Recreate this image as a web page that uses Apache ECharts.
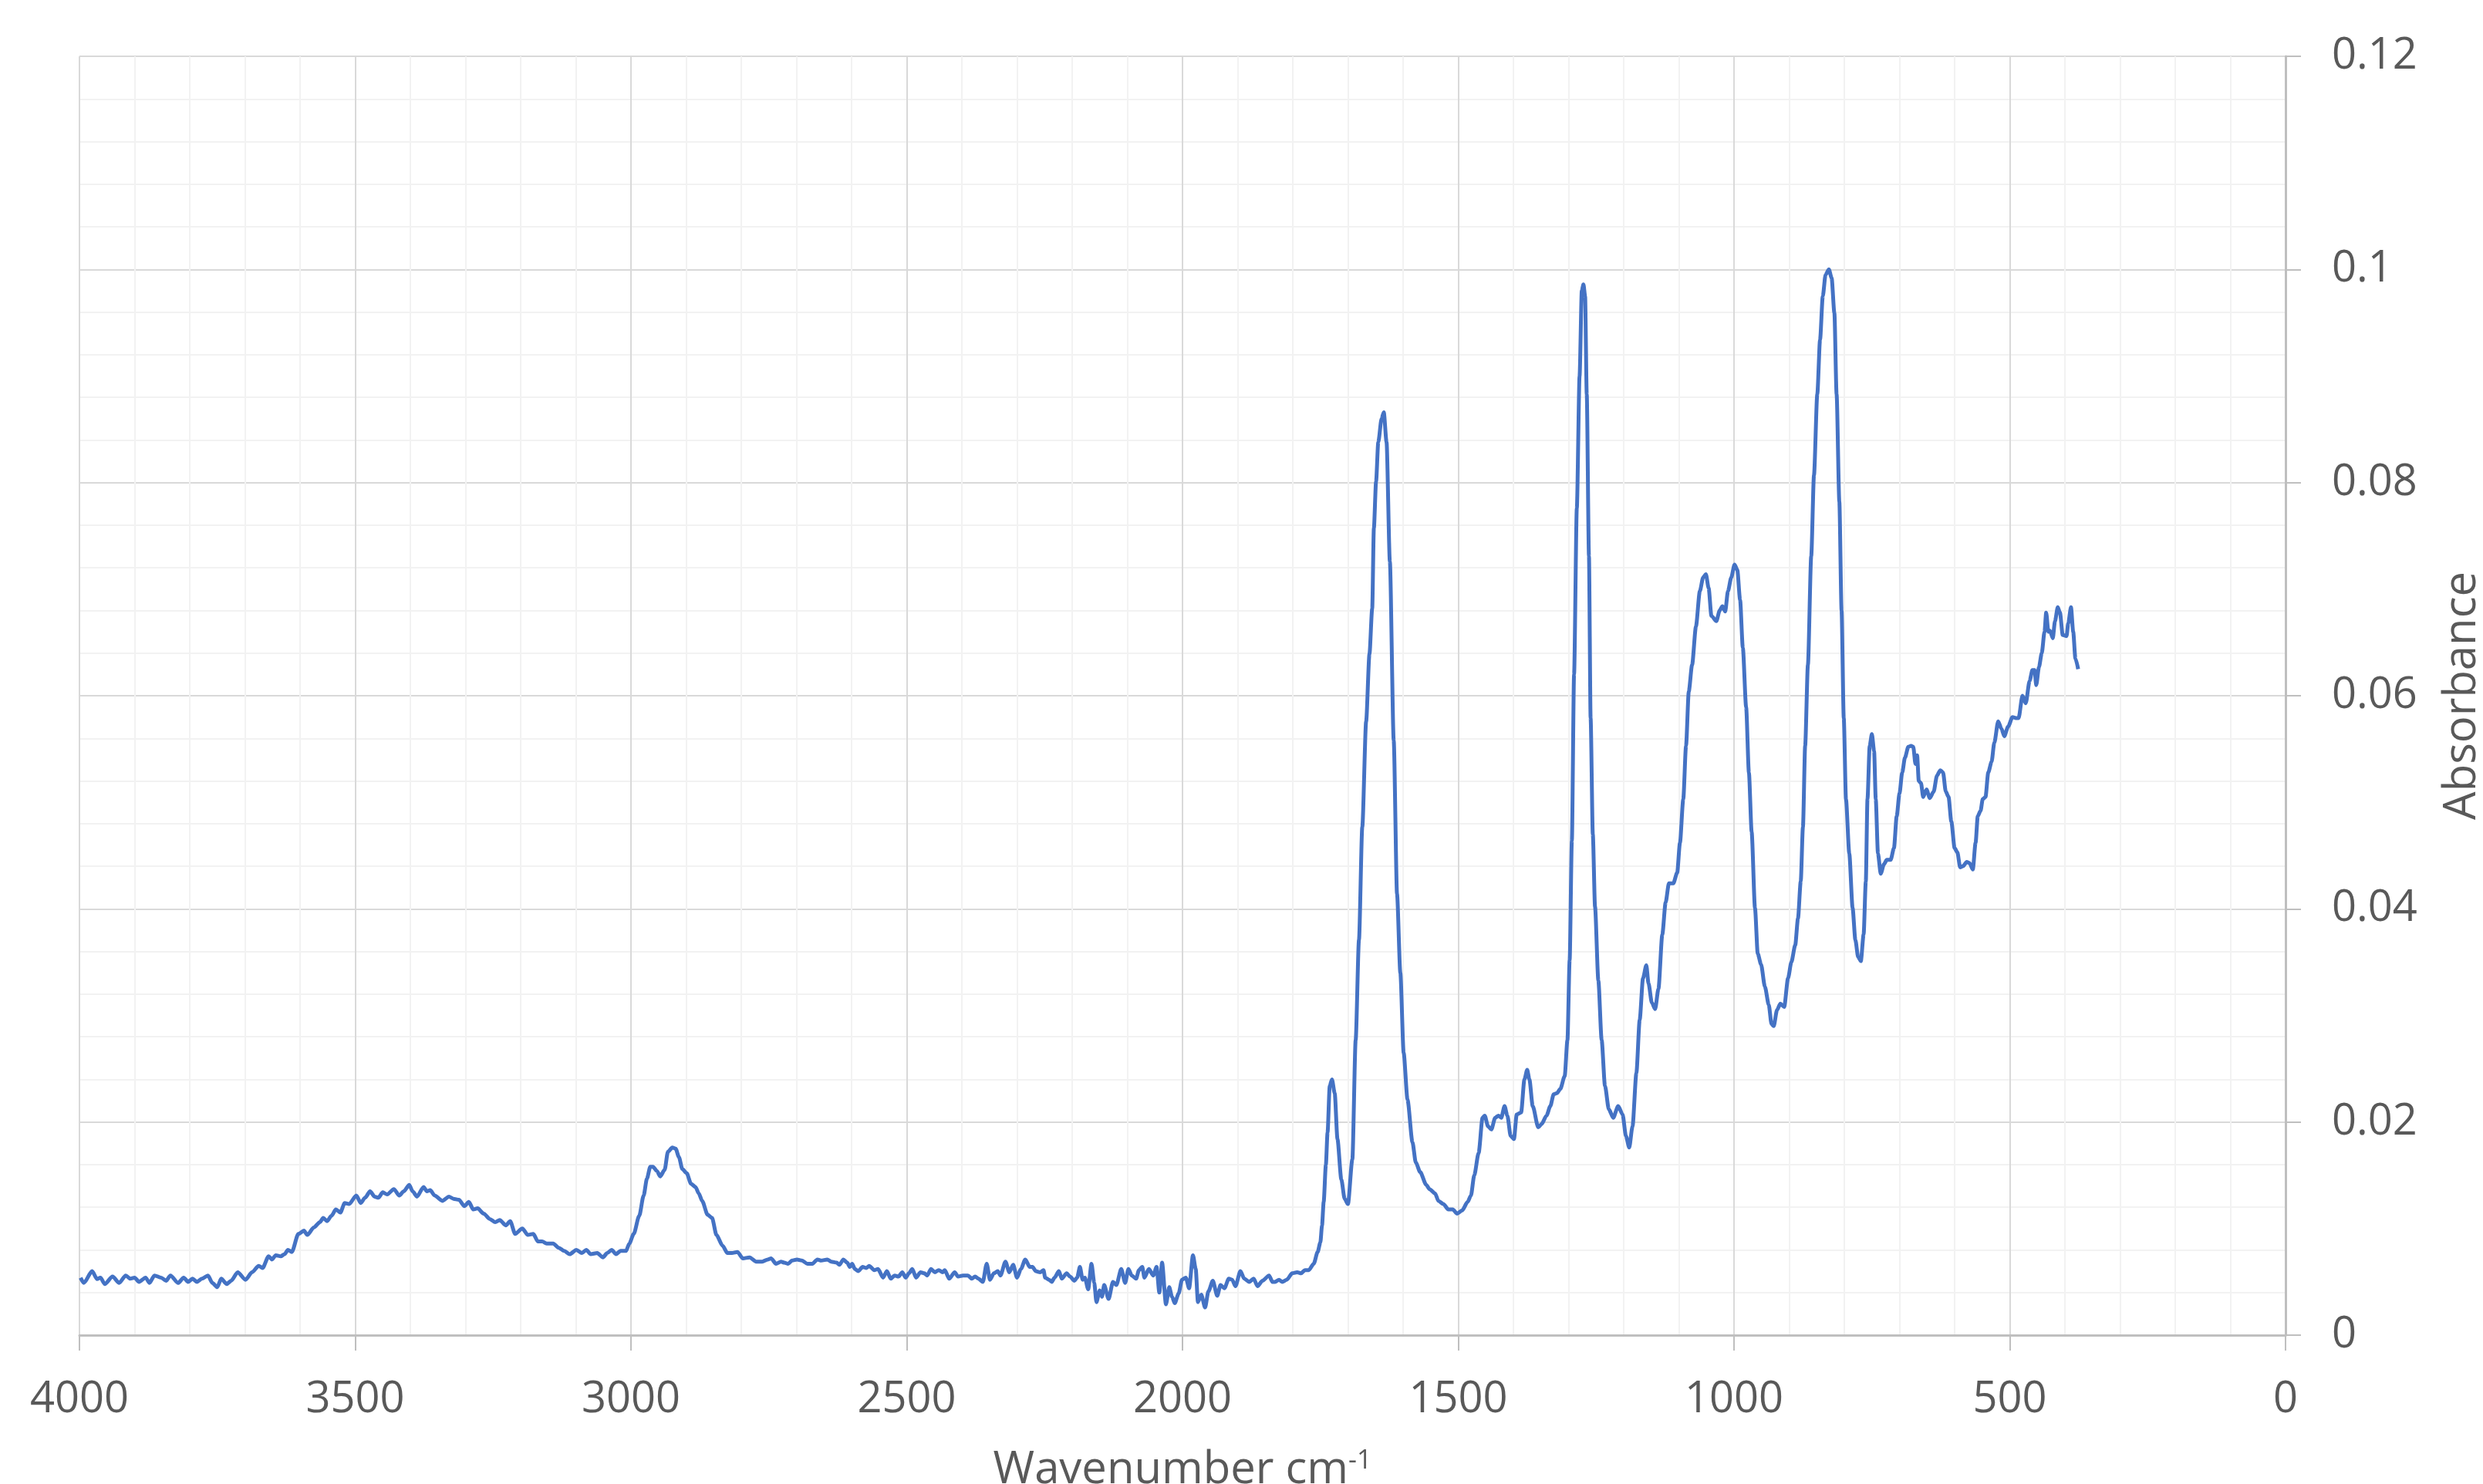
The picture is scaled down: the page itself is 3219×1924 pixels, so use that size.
<!DOCTYPE html>
<html>
<head>
<meta charset="utf-8">
<script src="https://cdn.jsdelivr.net/npm/echarts@6/dist/echarts.min.js"></script>
<style>
html,body{margin:0;padding:0;background:#fff;}
#chart{width:3219px;height:1924px;}
</style>
</head>
<body>
<div id="chart"></div>
<script>
const wavenumbers = [
3998,3992,3977,3968,3962,3954,3940,3928,3916,3908,3900,3892,3880,3873,3864,3852,3843,3835,3821,3811,
3803,3795,3787,3778,3767,3759,3750,3743,3733,3725,3713,3699,3687,3675,3668,3657,3651,3644,3635,3628,
3622,3615,3603,3593,3587,3575,3564,3558,3551,3543,3535,3527,3519,3511,3498,3490,3482,3473,3465,3458,
3450,3442,3430,3420,3412,3402,3396,3388,3376,3370,3364,3356,3342,3330,3322,3312,3302,3294,3286,3278,
3267,3256,3246,3238,3227,3219,3210,3197,3187,3177,3169,3161,3153,3141,3131,3121,3111,3099,3089,3081,
3073,3061,3051,3043,3035,3027,3019,3009,3003,2995,2985,2977,2971,2965,2960,2953,2947,2939,2933,2925,
2919,2913,2907,2899,2891,2883,2877,2871,2861,2853,2845,2834,2825,2817,2807,2797,2785,2773,2762,2752,
2746,2737,2728,2722,2715,2708,2699,2690,2680,2671,2662,2655,2644,2637,2627,2622,2615,2608,2603,2599,
2594,2588,2580,2573,2568,2559,2552,2543,2536,2529,2522,2515,2508,2502,2496,2490,2483,2475,2468,2463,
2456,2449,2442,2435,2431,2423,2413,2407,2398,2389,2382,2376,2370,2362,2355,2349,2342,2335,2330,2321,
2314,2307,2300,2293,2285,2277,2272,2266,2258,2252,2249,
2242,2237,2232,2224,2219,2210,2204,2196,2191,2186,2181,2177,2171,2165,2160,2156,2150,2146,2142,2134,
2126,2120,2111,2104,2098,2092,2084,2079,2073,2069,2061,2053,2047,2042,2037,2030,2024,2019,2014,2007,
2001,1994,1988,1981,1976,1972,1966,1959,1953,1945,1937,1931,1924,1916,1910,1904,1895,1888,1879,1871,
1864,1855,1843,1837,1832,1825,1819,1811,1801,1792,1785,1778,1771,1762,1755,1750,1747,1744,
1740,1737,1733,1729,1724,1719,1712,1706,1700,1692,1686,1680,1674,1667,1661,1656,1653,1649,1645,1639,
1635,1630,1624,1617,1611,1605,1599,1592,1583,1577,1569,1558,1552,1542,1536,1527,1518,1510,1502,1493,
1483,1477,1471,1463,1456,1452,1446,1440,1433,1427,1422,1416,1411,1405,1399,1394,1386,1380,1375,1371,
1365,1355,1349,1340,1333,1327,1321,1315,1307,1302,1298,1294,1290,1285,1280,1276,1273,1270,1267,1263,
1260,1256,1252,1246,1240,1234,1227,1219,1210,1202,1196,1190,1184,1177,1171,1165,1159,1155,1149,1143,
1137,1130,1124,1118,1110,1103,1098,1092,1087,1082,1076,1069,1062,1056,1051,1046,1041,1032,1026,1021,
1016,1011,1005,999,994,989,984,978,973,968,962,957,951,944,937,932,928,922,916,909,
902,896,889,884,879,875,871,866,860,855,849,844,839,834,828,823,818,814,809,805,
801,797,791,785,780,775,770,765,761,758,754,750,746,743,739,734,728,723,716,710,
705,700,695,690,684,679,675,671,668,665,661,657,651,645,638,632,626,621,616,611,
606,600,595,590,585,578,573,567,562,558,553,549,544,539,533,528,521,515,510,503,
495,489,484,477,471,464,459,455,452,447,442,437,434,430,427,422,418,413,409,404,
397,394,389,385,381,376
];
const absorbance = [
0.00538,0.0049,0.0060,0.00526,0.0054,0.0048,0.0055,0.0049,0.0056,0.0053,0.0054,0.0050,0.0054,0.0049,0.0056,0.0054,0.0051,0.0056,0.0049,0.0054,
0.0050,0.0053,0.0050,0.0053,0.0056,0.0049,0.0045,0.0053,0.0048,0.0051,0.0059,0.0052,0.0059,0.0065,0.0063,0.0074,0.0071,0.0075,0.0074,0.0076,
0.0080,0.0078,0.0095,0.0098,0.0094,0.0101,0.0106,0.0110,0.0107,0.0112,0.0118,0.0115,0.0124,0.0123,0.0131,0.0124,0.0129,0.0135,0.0130,0.0129,
0.0134,0.0132,0.0137,0.0131,0.0135,0.0141,0.0135,0.0130,0.0139,0.0135,0.0136,0.0131,0.0126,0.0130,0.0128,0.0127,0.0121,0.0125,0.0118,0.0119,
0.0114,0.0109,0.0106,0.0108,0.0103,0.0107,0.0095,0.0100,0.0094,0.0095,0.0088,0.0088,0.0086,0.0086,0.0082,0.0079,0.0076,0.0080,0.0077,0.0080,
0.0076,0.0077,0.0073,0.0077,0.0080,0.0076,0.0079,0.0079,0.0086,0.0095,0.0112,0.0131,0.0147,0.0158,0.0158,0.0154,0.0149,0.0155,0.0172,0.0176,
0.0175,0.0167,0.0156,0.0152,0.0142,0.0139,0.0133,0.0126,0.0113,0.0110,0.0094,0.0084,0.0077,0.0077,0.0078,0.0072,0.0073,0.0069,0.0069,0.0071,
0.0072,0.0067,0.0069,0.0068,0.0067,0.0070,0.0071,0.0070,0.0067,0.0067,0.0071,0.0070,0.0071,0.0069,0.0068,0.0066,0.0071,0.0068,0.0064,0.0067,
0.0062,0.0060,0.0064,0.0063,0.0065,0.0061,0.0062,0.0054,0.0060,0.0053,0.0056,0.0055,0.0059,0.0054,0.0058,0.0062,0.0054,0.0059,0.0058,0.0056,
0.0062,0.0059,0.0061,0.0059,0.0061,0.0053,0.0059,0.0055,0.0056,0.0056,0.0053,0.0055,0.0053,0.0050,0.0067,0.0052,0.0058,0.0060,0.0056,0.0069,
0.0059,0.0066,0.0054,0.0062,0.0071,0.0064,0.0064,0.0060,0.0059,0.0061,0.0054,
0.0052,0.0050,0.0054,0.0060,0.0053,0.0058,0.0055,0.0051,0.0054,0.0064,0.0052,0.0054,0.0043,0.0067,0.0049,0.0031,0.0042,0.0036,0.0047,0.0034,
0.0050,0.0047,0.0062,0.0049,0.0062,0.0056,0.0053,0.0061,0.0064,0.0054,0.0062,0.0056,0.0064,0.0040,0.0068,0.0029,0.0045,0.0036,0.0030,0.0039,
0.0052,0.0054,0.0044,0.0075,0.0062,0.0031,0.0038,0.0026,0.0041,0.0051,0.0037,0.0047,0.0044,0.0053,0.0052,0.0046,0.0060,0.0053,0.0050,0.0053,
0.0046,0.0051,0.0056,0.0050,0.0050,0.0052,0.0050,0.0052,0.0058,0.0059,0.0058,0.0061,0.0061,0.0067,0.0078,0.0087,0.0103,0.0125,
0.0160,0.0190,0.0234,0.0240,0.0227,0.0184,0.0146,0.0128,0.0123,0.0165,0.0277,0.0371,0.0477,0.0576,0.0639,0.0682,0.0757,0.0801,0.0838,0.0860,
0.0866,0.0838,0.0726,0.0558,0.0414,0.0340,0.0265,0.0221,0.0181,0.0162,0.0153,0.0141,0.0137,0.0133,0.0126,0.0123,0.0118,0.0118,0.0114,0.0117,
0.0125,0.0131,0.0150,0.0171,0.0204,0.0206,0.0196,0.0193,0.0204,0.0206,0.0204,0.0215,0.0206,0.0187,0.0184,0.0207,0.0209,0.0240,0.0249,0.0240,
0.0215,0.0195,0.0198,0.0206,0.0215,0.0226,0.0227,0.0231,0.0243,0.0277,0.0352,0.0464,0.0620,0.0776,0.0900,0.0980,0.0986,0.0975,0.0883,0.0731,
0.0579,0.0470,0.0402,0.0333,0.0277,0.0234,0.0212,0.0204,0.0215,0.0207,0.0187,0.0176,0.0196,0.0246,0.0296,0.0335,0.0347,0.0330,0.0312,0.0306,
0.0325,0.0376,0.0406,0.0424,0.0424,0.0434,0.0462,0.0503,0.0553,0.0604,0.0629,0.0665,0.0698,0.0711,0.0714,0.0701,0.0675,0.0670,0.0680,0.0684,
0.0679,0.0698,0.0711,0.0723,0.0718,0.0690,0.0645,0.0589,0.0528,0.0472,0.0401,0.0358,0.0348,0.0327,0.0310,0.0292,0.0290,0.0305,0.0311,0.0308,
0.0335,0.0350,0.0366,0.0391,0.0426,0.0477,0.0553,0.0629,0.0731,0.0807,0.0883,0.0934,0.0975,0.0995,0.1000,0.0992,0.0959,0.0883,0.0782,0.0680,
0.0579,0.0503,0.0452,0.0401,0.0371,0.0355,0.0351,0.0376,0.0426,0.0503,0.0553,0.0564,0.0548,0.0503,0.0452,0.0433,0.0442,0.0446,0.0446,0.0457,
0.0487,0.0508,0.0528,0.0542,0.0552,0.0553,0.0552,0.0536,0.0544,0.0520,0.0518,0.0505,0.0512,0.0504,0.0510,0.0525,0.0530,0.0528,0.0510,0.0505,
0.0482,0.0457,0.0453,0.0439,0.0440,0.0444,0.0443,0.0437,0.0462,0.0487,0.0492,0.0503,0.0505,0.0528,0.0538,0.0556,0.0576,0.0569,0.0562,0.0571,
0.0580,0.0579,0.0579,0.0600,0.0593,0.0614,0.0624,0.0624,0.0610,0.0627,0.0640,0.0660,0.0678,0.0660,0.0661,0.0654,0.0670,0.0683,0.0678,0.0657,
0.0656,0.0668,0.0683,0.0660,0.0635,0.0625
];
const xTicks = {min: 0, max: 4000, interval: 500};
const yTicks = {min: 0, max: 0.12, interval: 0.02};
const xTitle = 'Wavenumber cm{sup|-1}';
const yTitle = 'Absorbance';

const seriesData = wavenumbers.map((w, i) => [w, absorbance[i]]);
const FONT = '"Open Sans", "Liberation Sans", sans-serif';
const chart = echarts.init(document.getElementById('chart'), null, {renderer: 'canvas'});
chart.setOption({
  backgroundColor: '#ffffff',
  animation: false,
  grid: {left: 103, right: 256, top: 73, bottom: 193, containLabel: false, outerBoundsMode: 'none'},
  xAxis: {
    type: 'value',
    inverse: true,
    min: xTicks.min, max: xTicks.max, interval: xTicks.interval,
    name: xTitle,
    nameLocation: 'middle',
    nameGap: 146,
    nameTextStyle: {
      fontFamily: FONT, fontSize: 58, color: '#595959',
      rich: {sup: {fontFamily: FONT, fontSize: 34, color: '#595959', verticalAlign: 'top', lineHeight: 34}}
    },
    axisLine: {show: true, onZero: false, lineStyle: {color: '#bfbfbf', width: 3}},
    axisTick: {show: true, length: 20, lineStyle: {color: '#bfbfbf', width: 2}},
    minorTick: {show: true, splitNumber: 5, length: 0, lineStyle: {color: 'rgba(0,0,0,0)'}},
    axisLabel: {fontFamily: FONT, fontSize: 56, color: '#595959', margin: 56, formatter: v => String(v)},
    splitLine: {show: true, lineStyle: {color: '#d9d9d9', width: 2}},
    minorSplitLine: {show: true, lineStyle: {color: '#f2f2f2', width: 2}}
  },
  yAxis: {
    type: 'value',
    position: 'right',
    min: yTicks.min, max: yTicks.max, interval: yTicks.interval,
    name: yTitle,
    nameLocation: 'middle',
    nameRotate: 90,
    nameGap: 200,
    nameTextStyle: {fontFamily: FONT, fontSize: 58, color: '#595959'},
    axisLine: {show: true, onZero: false, lineStyle: {color: '#bfbfbf', width: 3}},
    axisTick: {show: true, length: 20, lineStyle: {color: '#bfbfbf', width: 2}},
    minorTick: {show: true, splitNumber: 5, length: 0, lineStyle: {color: 'rgba(0,0,0,0)'}},
    axisLabel: {fontFamily: FONT, fontSize: 56, color: '#595959', margin: 60},
    splitLine: {show: true, lineStyle: {color: '#d9d9d9', width: 2}},
    minorSplitLine: {show: true, lineStyle: {color: '#f2f2f2', width: 2}}
  },
  series: [{
    type: 'line',
    data: seriesData,
    showSymbol: false,
    symbol: 'none',
    smooth: 0.25,
    smoothMonotone: 'x',
    lineStyle: {color: '#4472c4', width: 5},
    z: 5
  }]
});
</script>
</body>
</html>
